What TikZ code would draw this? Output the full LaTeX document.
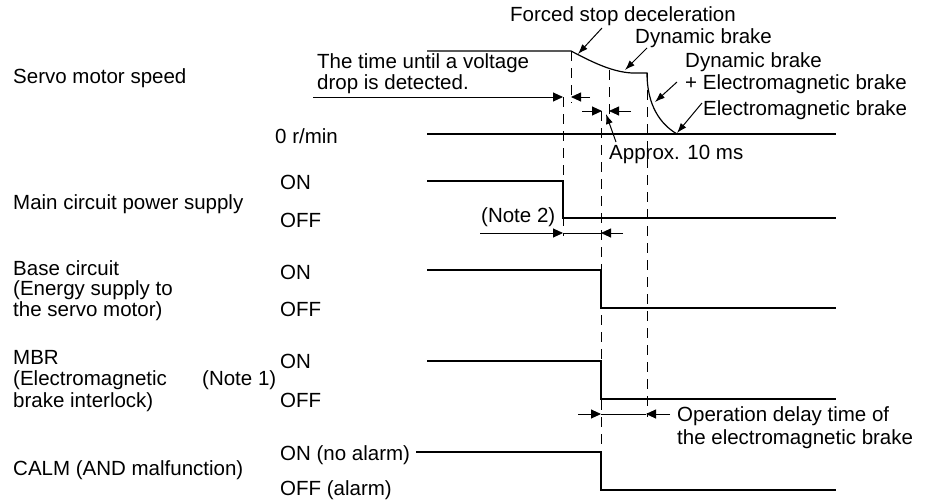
\documentclass[tikz,border=0pt]{standalone}
\usepackage{fontspec}
\setmainfont{Liberation Sans}
\usetikzlibrary{arrows.meta,positioning}
\tikzset{
  txt/.style={anchor=base west, inner sep=0pt, align=left,
              font=\fontsize{20.5}{21}\selectfont},
  sig/.style={line width=1.2pt},
  guide/.style={line width=0.9pt, dash pattern=on 10pt off 7pt},
  dim/.style={line width=0.9pt, -{Triangle[length=10pt,width=9pt]}},
  lead/.style={line width=1pt, -{Latex[length=10pt,width=7pt]}},
}

\begin{document}
\begin{tikzpicture}[x=1pt,y=-1pt]
  \useasboundingbox (0,0) rectangle (936,503);

  % signal names (multi-line: base is the last line)
  \node[txt] (speed) at (13,83) {Servo motor speed};
  \node[txt] (main) at (13,209) {Main circuit power supply};
  \node[txt, font=\fontsize{20.5}{20.5}\selectfont] (base) at (13,316) {Base circuit\\(Energy supply to\\the servo motor)};
  \node[txt, font=\fontsize{20.5}{21.5}\selectfont] (mbr) at (13,407) {MBR\\(Electromagnetic\\brake interlock)};
  \node[txt] (calm) at (13,475) {CALM (AND malfunction)};
  \node[txt] (note1) at (202,385) {(Note 1)};

  % levels
  \node[txt] (zero) at (275,143) {0 r/min};
  \node[txt] (mainon) at (280,189) {ON};
  \node[txt] (mainoff) at (280,227) {OFF};
  \node[txt] (baseon) at (280,279) {ON};
  \node[txt] (baseoff) at (280,316) {OFF};
  \node[txt] (mbron) at (280,368) {ON};
  \node[txt] (mbroff) at (280,407) {OFF};
  \node[txt] (calmon) at (280,460) {ON (no alarm)};
  \node[txt] (calmoff) at (280,495) {OFF (alarm)};

  % waveforms
  \draw[sig] (427,51) -- (571,51) .. controls (592,62) and (612,72) .. (632,73)
    -- (647,73) .. controls (647,105) and (660,124) .. (677,134);
  \draw[sig] (427,134) -- (836,134);
  \draw[sig] (427,181) -- (563,181) -- (563,218) -- (836,218);
  \draw[sig] (427,270) -- (601,270) -- (601,308) -- (836,308);
  \draw[sig] (427,361) -- (601,361) -- (601,399) -- (836,399);
  \draw[sig] (calmon.east |- 0,452) ++(6,0) -- (601,452) -- (601,490) -- (836,490);

  % time marks
  \draw[guide] (571,51) -- (571,103);
  \draw[guide] (563,97) -- (563,236);
  \draw[guide] (609,70) -- (609,117);
  \draw[guide] (601,111) -- (601,452);
  \draw[guide] (647,73) -- (647,417);

  % curve notes
  \node[txt] (forced) at (510,22) {Forced stop deceleration};
  \node[txt] (dyn) at (635,44) {Dynamic brake};
  \node[txt, font=\fontsize{20.5}{22}\selectfont] (dynem) at (685,89) {Dynamic brake\\+ Electromagnetic brake};
  \node[txt] (em) at (703,115) {Electromagnetic brake};
  \node[txt] (approx) at (609,159) {Approx. 10 ms};
  \node[txt, font=\fontsize{20.5}{19}\selectfont] (detect) at (317,89) {The time until a voltage\\drop is detected.};
  \node[txt] (note2) at (481,222) {(Note 2)};
  \node[txt, font=\fontsize{20.5}{23}\selectfont] (delay) at (677,444) {Operation delay time of\\the electromagnetic brake};

  \coordinate (forcedA) at (602,28);  \coordinate (forcedB) at (578,54);
  \coordinate (dynA) at (647,48);     \coordinate (dynB) at (625,70);
  \coordinate (dynemA) at (677,82);   \coordinate (dynemB) at (655,102);
  \coordinate (emA) at (702,103);     \coordinate (emB) at (677,133);
  \coordinate (approxA) at (616,142); \coordinate (approxB) at (606,114);
  \draw[lead] (forcedA) -- (forcedB);
  \draw[lead] (dynA) -- (dynB);
  \draw[lead] (dynemA) -- (dynemB);
  \draw[lead] (emA) -- (emB);
  \draw[lead] (approxA) -- (approxB);

  % intervals
  \coordinate (det1) at (563,97);  \coordinate (det2) at (571,97);
  \coordinate (app1) at (602,111); \coordinate (app2) at (609,111);
  \coordinate (n21) at (563,233);  \coordinate (n22) at (601,233);
  \coordinate (op1) at (601,414);  \coordinate (op2) at (646,414);
  \draw[dim] (313,97) -- (det1);
  \draw[dim] (590,97) -- (det2);
  \draw[dim] (582,111) -- (app1);
  \draw[dim] (631,111) -- (app2);
  \draw[dim] (480,233) -- (n21);
  \draw[line width=0.9pt] (n21) -- (n22);
  \draw[dim] (623,233) -- (n22);
  \draw[dim] (578,414) -- (op1);
  \draw[line width=0.9pt] (op1) -- (op2);
  \draw[dim] (670,414) -- (op2);
\end{tikzpicture}
\end{document}
